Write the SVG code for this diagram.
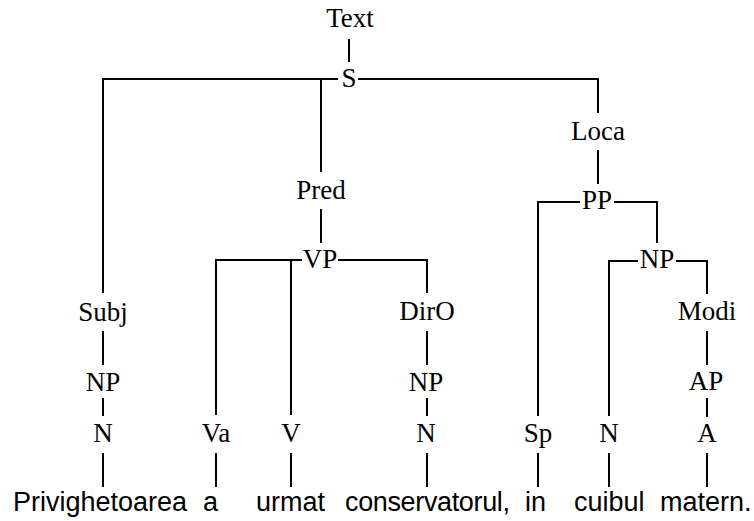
<svg xmlns="http://www.w3.org/2000/svg" width="754" height="521" viewBox="0 0 754 521">
<style>
.t{font-family:"Liberation Serif","Times New Roman",serif;font-size:27px;fill:#000;text-anchor:middle}
.w{font-family:"Liberation Sans",Arial,sans-serif;font-size:27px;fill:#000}
.c path{fill:none;stroke:#000;stroke-width:2}
</style>
<rect width="754" height="521" fill="#fff"/>
<g id="connectors" class="c">
<path d="M349,39V62"/>
<path d="M103,293V79H338M358,79H598V113M321,79V172"/>
<path d="M321,209V243"/>
<path d="M216,415V260H302M338,260H427V293M291,260V415"/>
<path d="M598,150V184"/>
<path d="M538,416V202H580M614,202H657V243"/>
<path d="M609,416V261H638M676,261H707V294"/>
<path d="M707,331V365M707,398V417"/>
<path d="M103,331V365M103,398V416"/>
<path d="M427,331V365M427,398V416"/>
<path d="M103,453V487M216,453V487M291,453V487M427,453V487M538,453V487M609,453V487M707,453V487"/>
</g>
<g id="n-text"><text class="t" x="350" y="27">Text</text></g>
<g id="n-s"><text class="t" x="349" y="87">S</text></g>
<g id="n-loca"><text class="t" x="598" y="140">Loca</text></g>
<g id="n-pred"><text class="t" x="321" y="199">Pred</text></g>
<g id="n-pp"><text class="t" x="597" y="209">PP</text></g>
<g id="n-vp"><text class="t" x="320" y="268">VP</text></g>
<g id="n-np2"><text class="t" x="657" y="268">NP</text></g>
<g id="n-subj"><text class="t" x="103" y="321">Subj</text></g>
<g id="n-diro"><text class="t" x="427" y="320">DirO</text></g>
<g id="n-modi"><text class="t" x="707" y="320">Modi</text></g>
<g id="n-np1"><text class="t" x="103" y="391">NP</text></g>
<g id="n-np3"><text class="t" x="426" y="391">NP</text></g>
<g id="n-ap"><text class="t" x="706" y="390">AP</text></g>
<g id="n-n1"><text class="t" x="103" y="442">N</text></g>
<g id="n-va"><text class="t" x="216" y="442">Va</text></g>
<g id="n-v"><text class="t" x="291" y="442">V</text></g>
<g id="n-n3"><text class="t" x="426" y="442">N</text></g>
<g id="n-sp"><text class="t" x="538" y="442">Sp</text></g>
<g id="n-n4"><text class="t" x="609" y="442">N</text></g>
<g id="n-a"><text class="t" x="707" y="442">A</text></g>
<g id="words">
<text class="w" x="13" y="511">Privighetoarea</text>
<text class="w" x="203" y="511">a</text>
<text class="w" x="256" y="511">urmat</text>
<text class="w" x="345" y="511" textLength="165">conservatorul,</text>
<text class="w" x="525" y="511">in</text>
<text class="w" x="574" y="511">cuibul</text>
<text class="w" x="660" y="511">matern.</text>
</g>
</svg>
